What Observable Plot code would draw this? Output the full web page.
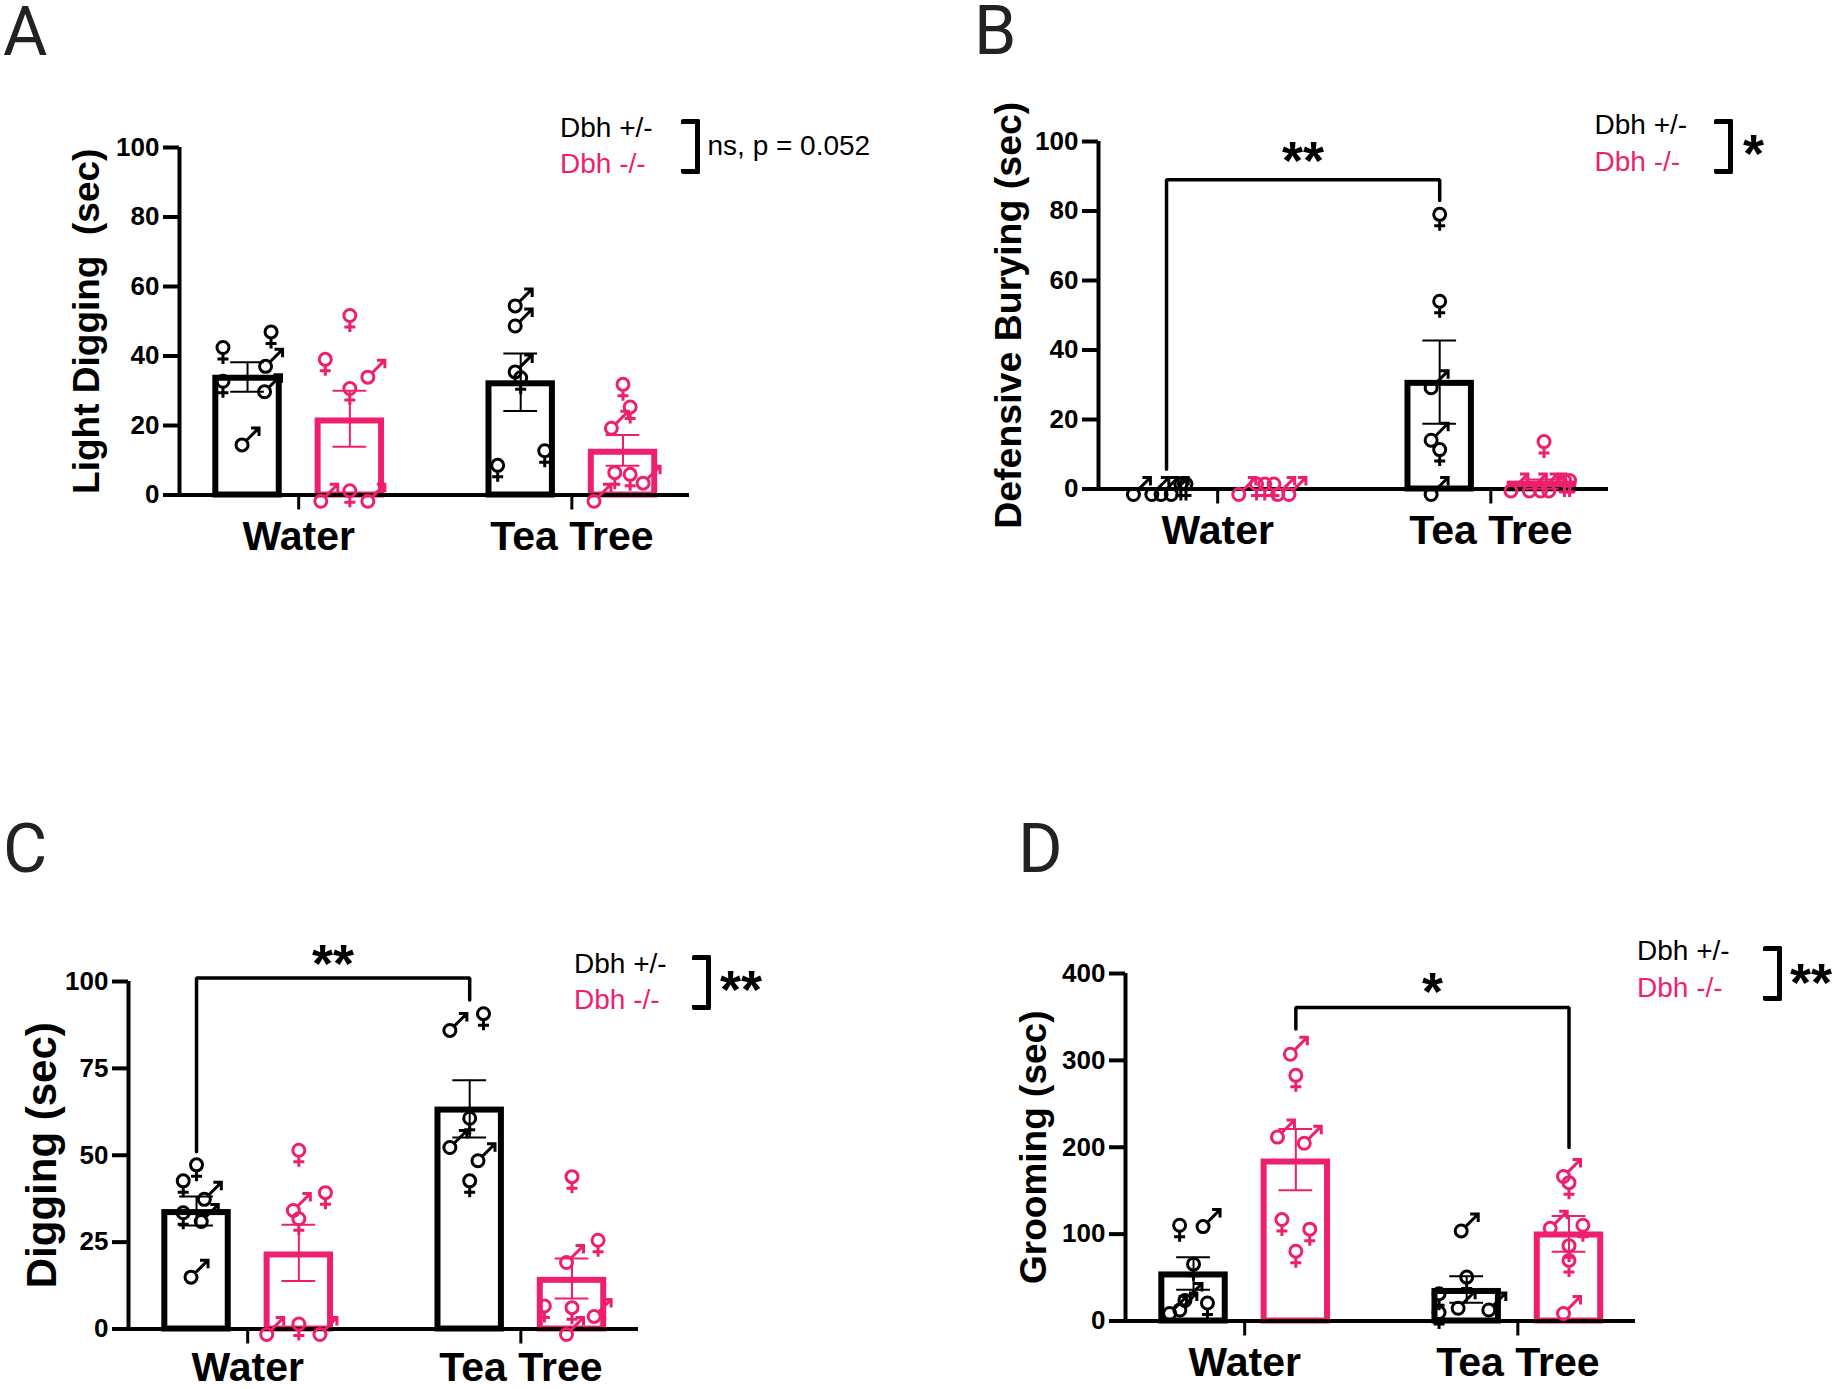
<!DOCTYPE html>
<html><head><meta charset="utf-8">
<script src="https://cdn.jsdelivr.net/npm/d3@7"></script>
<script src="https://cdn.jsdelivr.net/npm/@observablehq/plot@0.6"></script>
<style>
html,body{margin:0;padding:0;background:#fff;width:1837px;height:1389px;overflow:hidden}
body{position:relative;font-family:"Liberation Sans",Arial,sans-serif}
.abs{position:absolute;white-space:pre;line-height:1.2}
.letter{font-family:"Roboto","Liberation Sans",sans-serif;font-weight:400;font-size:68px;color:#222;line-height:.8}
.leg{font-size:28px}
.brk{position:absolute;border:5.5px solid #000;border-left:none;box-sizing:border-box;border-radius:2px}
</style></head><body>
<script>
const BLACK = "#000000", PINK = "#ee1f6e";
const categories = ["Water", "Tea Tree"];
const categoryTicks = [1.5, 4.17];
const groupNames = ["Water +/-", "Water -/-", "Tea Tree +/-", "Tea Tree -/-"];
const groupPositions = [1, 2, 3.67, 4.67];
const genotypes = ["Dbh +/-", "Dbh -/-"];

// Panel A
const aMean = [33.6, 21.3, 32, 12.3];
const aHigh = [38.2, 30, 40.7, 17.3];
const aLow = [29.7, 13.9, 24.2, 8.4];
const aValue = [41, 45.5, 38.6, 31.3, 31.3, 16, 50.2, 37.6, 35.5, 29.2, -0.2, -0.2, -0.2, 56, 50.2, 37, 32.3, 7.1, 11.3, 30.4, 23.9, 20.8, 5, 4.5, 5, -0.2];
const aJitter = [-.24, .23, .23, -.24, .22, 0, 0, -.24, .23, 0, -.23, 0, .23, 0, 0, 0, 0, -.225, .235, 0, .07, -.06, -.08, .07, .25, -.23];
const aSex = "FFMFMMFFMFMFMMMMFFFFFMFFMM";
const aGroup = [0,0,0,0,0,0,1,1,1,1,1,1,1,2,2,2,2,2,2,3,3,3,3,3,3,3];

// Panel B
const bMean = [0, 0, 30.4, 1.4];
const bHigh = [0, 0, 42.7, 2.7];
const bLow = [0, 0, 18.8, 0.1];
const bValue = [0, 0, 0, 0, 0, 0, 0, 0, 0, 0, 0, 0, 77.6, 52.6, 30.7, 15.6, 9.9, 0, 12.2, 1, 1, 1, 1, 1, 1];
const bJitter = [-.27, -.09, 0, .1, .19, .14, -.24, -.12, -.04, .05, .14, .25, 0, 0, -.03, -.03, 0, -.03, .02, -.25, -.07, .04, .12, .22, .27];
const bSex = "MMMMFFMFFFMMFFMMFMFMMMMFF";
const bGroup = [0,0,0,0,0,0,1,1,1,1,1,1,2,2,2,2,2,2,3,3,3,3,3,3,3];
const bBracket = {from: 0, to: 2, low: 5.7, top: 89, high: 83, star: "**", starAt: 97};

// Panel C
const cMean = [33.5, 21.3, 63, 14];
const cHigh = [38.1, 30, 71.6, 20.3];
const cLow = [29.8, 13.8, 55.1, 8.8];
const cValue = [45.8, 41.2, 38.9, 32, 32.5, 16.5, 50, 37.8, 35.7, 30.3, 0, 0, 0, 87.5, 89.3, 59.2, 53.8, 50, 41.2, 42.4, 24.1, 20.7, 5.2, 4.7, 5.2, 0];
const cJitter = [0, -.13, .13, -.13, .1, 0, 0, .26, 0, 0, -.26, 0, .26, -.14, .135, 0, -.14, .135, 0, 0, .255, 0, -.27, 0, .27, 0];
const cSex = "FFMFMMFFMFMFMMFFMMFFFMFFMM";
const cGroup = [0,0,0,0,0,0,1,1,1,1,1,1,1,2,2,2,2,2,2,3,3,3,3,3,3,3];
const cBracket = {from: 0, to: 2, low: 51, top: 101, high: 94.7, star: "**", starAt: 107.8};

// Panel D
const dMean = [53, 183, 34, 99];
const dHigh = [73.3, 221, 51.6, 121];
const dLow = [36, 150.5, 20.9, 79.7];
const dValue = [104.5, 115, 59.7, 29.9, 15, 15, 19, 313.4, 277, 218, 211, 111, 100, 74.6, 110, 44.8, 25.6, 21, 19, 4, 172.7, 153.5, 113, 104.5, 81, 64, 15];
const dJitter = [-.136, .147, 0, -.03, .136, -.18, -.08, 0, 0, -.126, .136, -.136, .136, 0, 0, 0, -.27, -.03, .27, -.27, 0, 0, -.13, .136, 0, 0, 0];
const dSex = "FMFMFMMMFMMFFFMFFMMFMFMFFFM";
const dGroup = [0,0,0,0,0,0,0,1,1,1,1,1,1,1,2,2,2,2,2,2,3,3,3,3,3,3,3];
const dBracket = {from: 1, to: 3, low: 336, top: 361, high: 199.6, star: "*", starAt: 389};

// Sex markers
const femaleSymbol = {draw(c){
  c.moveTo(6,-5); c.arc(0,-5,6,0,2*Math.PI);
  c.moveTo(0,1); c.lineTo(0,11.5);
  c.moveTo(-5.5,6.5); c.lineTo(5.5,6.5);
}};
const maleSymbol = {draw(c){
  c.moveTo(0.5,5.5); c.arc(-5.5,5.5,6,0,2*Math.PI);
  c.moveTo(-1.4,1.4); c.lineTo(11.5,-11.5);
  c.moveTo(3.5,-11.5); c.lineTo(11.5,-11.5); c.lineTo(11.5,-3.5);
}};

const xDomain = [0.335, 5.32];
const FRAME_W = 510, PLOT_H = 347.5, M_L = 120, M_T = 110, M_R = 6, M_B = 60;
const font = '"Liberation Sans", Arial, sans-serif';

function panel({title, titleSize, titleDx, yMax, yTicks, mean, high, low, value, jitter, sex, group, bracket, axisX, y0, labelPad}) {
  const bars = groupPositions.map((x, i) => ({name: groupNames[i], x, mean: mean[i], high: high[i], low: low[i], color: i % 2 ? PINK : BLACK}));
  const pts = value.map((v, i) => ({v, x: groupPositions[group[i]] + jitter[i], sex: sex[i], color: group[i] % 2 ? PINK : BLACK}));
  const shown = bars.filter(d => d.mean > 0);
  const marks = [
    Plot.rect(shown, {x1: d => d.x - .31, x2: d => d.x + .31, y1: 0, y2: "mean", fill: "#fff", stroke: "color", strokeWidth: 6}),
    Plot.ruleY([0], {stroke: BLACK, strokeWidth: 4}),
    Plot.ruleX([xDomain[0]], {y1: 0, y2: yMax, stroke: BLACK, strokeWidth: 4}),
    Plot.axisY({ticks: yTicks, tickSize: 16, tickPadding: 4, strokeWidth: 4, fontSize: 26, fontWeight: "bold", label: null, fill: BLACK, stroke: BLACK, tickFormat: d => String(d)}),
    Plot.axisX({ticks: categoryTicks, tickSize: 15, tickPadding: labelPad, strokeWidth: 3, fontSize: 41, fontWeight: "bold", label: null, stroke: BLACK, tickFormat: d => categories[categoryTicks.indexOf(d)]}),
    Plot.ruleX(shown, {x: "x", y1: "low", y2: "high", stroke: "color", strokeWidth: 2}),
    Plot.ruleY(shown, {x1: d => d.x - .165, x2: d => d.x + .165, y: "high", stroke: "color", strokeWidth: 2}),
    Plot.ruleY(shown, {x1: d => d.x - .165, x2: d => d.x + .165, y: "low", stroke: "color", strokeWidth: 2}),
    Plot.dot(pts.filter(d => d.sex === "F"), {x: "x", y: "v", symbol: femaleSymbol, stroke: "color", fill: "none", strokeWidth: 3}),
    Plot.dot(pts.filter(d => d.sex === "M"), {x: "x", y: "v", symbol: maleSymbol, stroke: "color", fill: "none", strokeWidth: 3}),
    Plot.text([title], {text: d => d, y: () => yMax / 2, frameAnchor: "left", dx: titleDx, rotate: -90, textAnchor: "middle", lineAnchor: "middle", fontSize: titleSize, fontWeight: "bold", fill: BLACK})
  ];
  if (bracket) {
    const a = groupPositions[bracket.from], b = groupPositions[bracket.to];
    marks.push(Plot.line([[a, bracket.low], [a, bracket.top], [b, bracket.top], [b, bracket.high]], {stroke: BLACK, strokeWidth: 3.5, strokeLinejoin: "miter"}));
    marks.push(Plot.text([bracket.star], {text: d => d, x: () => (a + b) / 2, y: () => bracket.starAt, fontSize: 54, fontWeight: "bold", fill: BLACK, lineAnchor: "middle", dy: 10}));
  }
  const svg = Plot.plot({
    width: M_L + FRAME_W + M_R, height: M_T + PLOT_H + M_B,
    marginLeft: M_L, marginRight: M_R, marginTop: M_T, marginBottom: M_B,
    x: {domain: xDomain, range: [M_L, M_L + FRAME_W]},
    y: {domain: [0, yMax], range: [M_T + PLOT_H, M_T]},
    style: {fontFamily: font, background: "transparent", overflow: "visible"},
    marks
  });
  svg.style.position = "absolute";
  svg.style.left = (axisX - M_L) + "px";
  svg.style.top = (y0 - PLOT_H - M_T) + "px";
  document.body.appendChild(svg);
}

panel({title: "Light Digging\u00a0\u00a0(sec)", titleSize: 37, titleDx: -92, yMax: 100, yTicks: [0,20,40,60,80,100], mean: aMean, high: aHigh, low: aLow, value: aValue, jitter: aJitter, sex: aSex, group: aGroup, axisX: 178.5, y0: 494.5, labelPad: 11});
panel({title: "Defensive Burying (sec)", titleSize: 37.5, titleDx: -90, yMax: 100, yTicks: [0,20,40,60,80,100], mean: bMean, high: bHigh, low: bLow, value: bValue, jitter: bJitter, sex: bSex, group: bGroup, bracket: bBracket, axisX: 1098, y0: 488.6, labelPad: 11});
panel({title: "Digging (sec)", titleSize: 42, titleDx: -86, yMax: 100, yTicks: [0,25,50,75,100], mean: cMean, high: cHigh, low: cLow, value: cValue, jitter: cJitter, sex: cSex, group: cGroup, bracket: cBracket, axisX: 127.6, y0: 1328.5, labelPad: 8});
panel({title: "Grooming (sec)", titleSize: 37, titleDx: -91, yMax: 400, yTicks: [0,100,200,300,400], mean: dMean, high: dHigh, low: dLow, value: dValue, jitter: dJitter, sex: dSex, group: dGroup, bracket: dBracket, axisX: 1125, y0: 1320.4, labelPad: 11});

function abs(text, cls, left, centerY, color, extra) {
  const el = document.createElement("div");
  el.className = "abs " + cls; el.textContent = text;
  el.style.left = left + "px"; el.style.top = centerY + "px"; el.style.transform = "translateY(-50%)";
  if (color) el.style.color = color;
  if (extra) Object.assign(el.style, extra);
  document.body.appendChild(el);
}
function legend(x, y1, y2, bL, bR, bT, bB, note, noteX, noteY, noteStyle) {
  abs(genotypes[0], "leg", x, y1, BLACK);
  abs(genotypes[1], "leg", x, y2, PINK);
  const b = document.createElement("div"); b.className = "brk";
  Object.assign(b.style, {left: bL + "px", top: bT + "px", width: (bR - bL) + "px", height: (bB - bT) + "px"});
  document.body.appendChild(b);
  abs(note, "leg", noteX, noteY, BLACK, noteStyle);
}
const starStyle = {fontSize: "54px", fontWeight: "bold"};
legend(560, 127.5, 164, 681, 699.5, 118.5, 173.5, "ns, p = 0.052", 707.5, 146);
legend(1594.5, 125, 162, 1714, 1733, 118.5, 173.5, "*", 1743, 153, starStyle);
legend(574, 964, 999.5, 692, 711, 955, 1009.5, "**", 720, 988.5, starStyle);
legend(1637, 951, 988, 1763, 1782, 946, 1000.5, "**", 1790, 981.5, starStyle);

abs("A", "letter", 3, 32);
abs("B", "letter", 974, 31);
abs("C", "letter", 3, 849);
abs("D", "letter", 1018, 849);
</script>
</body></html>
